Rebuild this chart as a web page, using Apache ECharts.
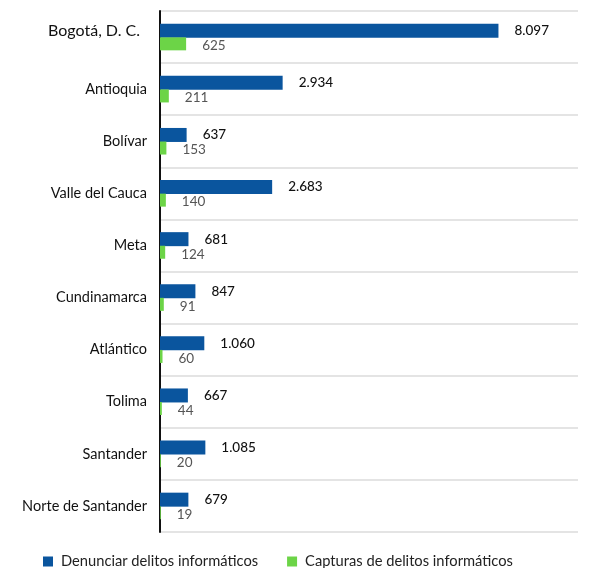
<!DOCTYPE html>
<html>
<head>
<meta charset="utf-8">
<script src="https://cdn.jsdelivr.net/npm/echarts@6/dist/echarts.min.js"></script>
<style>
  html, body { margin: 0; padding: 0; background: #fff; }
  #chart { width: 598px; height: 568px; }
</style>
</head>
<body>
<div id="chart"></div>
<script>
// datos por departamento
var departamentos = ['Bogotá, D. C.', 'Antioquia', 'Bolívar', 'Valle del Cauca', 'Meta',
    'Cundinamarca', 'Atlántico', 'Tolima', 'Santander', 'Norte de Santander'];
var denuncias = [8097, 2934, 637, 2683, 681, 847, 1060, 667, 1085, 679];
var capturas = [625, 211, 153, 140, 124, 91, 60, 44, 20, 19];
var nombresSeries = ['Denunciar delitos informáticos', 'Capturas de delitos informáticos'];

(function() {
    var myChart = echarts.init(document.getElementById('chart'));
    var fuente = 'Lato, "Open Sans", sans-serif';

    // separador de miles con punto
    function miles(p) {
        return String(p.value).replace(/\B(?=(\d{3})+(?!\d))/g, '.');
    }

    var option = {
        animation: false,
        textStyle: { fontFamily: fuente },
        legend: {
            bottom: -6,
            left: 38,
            icon: 'rect',
            itemWidth: 10,
            itemHeight: 10,
            itemGap: 29,
            textStyle: { fontSize: 14.7, color: '#222', padding: [0, 0, 0, 3] },
            data: nombresSeries
        },
        grid: { left: 160, right: 20, top: 11, bottom: 36, containLabel: false },
        xAxis: {
            type: 'value',
            min: 0,
            max: 10000,
            axisLine: { show: false },
            axisTick: { show: false },
            axisLabel: { show: false },
            splitLine: { show: false }
        },
        yAxis: {
            type: 'category',
            inverse: true,
            data: departamentos,
            axisLine: { lineStyle: { color: '#111', width: 2 } },
            axisTick: { length: 5, lineStyle: { color: '#111', width: 2 } },
            splitLine: { show: true, lineStyle: { color: '#e4e4e4', width: 2 } },
            axisLabel: {
                margin: 13,
                fontSize: 14.5,
                color: '#111',
                formatter: function(v, i) {
                    return i === 0 ? '{big|' + v + '}' : v;
                },
                rich: {
                    big: { fontSize: 16, color: '#111', padding: [0, 7, 12, 0] }
                }
            }
        },
        series: [{
            name: nombresSeries[0],
            type: 'bar',
            data: denuncias,
            barWidth: 14,
            barGap: '-3%',
            itemStyle: { color: '#0a559e' },
            label: {
                show: true,
                position: 'right',
                distance: 16,
                fontSize: 13.5,
                color: '#111',
                fontWeight: 500,
                formatter: miles
            }
        }, {
            name: nombresSeries[1],
            type: 'bar',
            data: capturas,
            barWidth: 13,
            itemStyle: { color: '#6cd447' },
            label: {
                show: true,
                position: 'right',
                distance: 16,
                offset: [0, 2],
                fontSize: 13.5,
                color: '#555',
                formatter: miles
            }
        }]
    };
    myChart.setOption(option);
})();
</script>
</body>
</html>
